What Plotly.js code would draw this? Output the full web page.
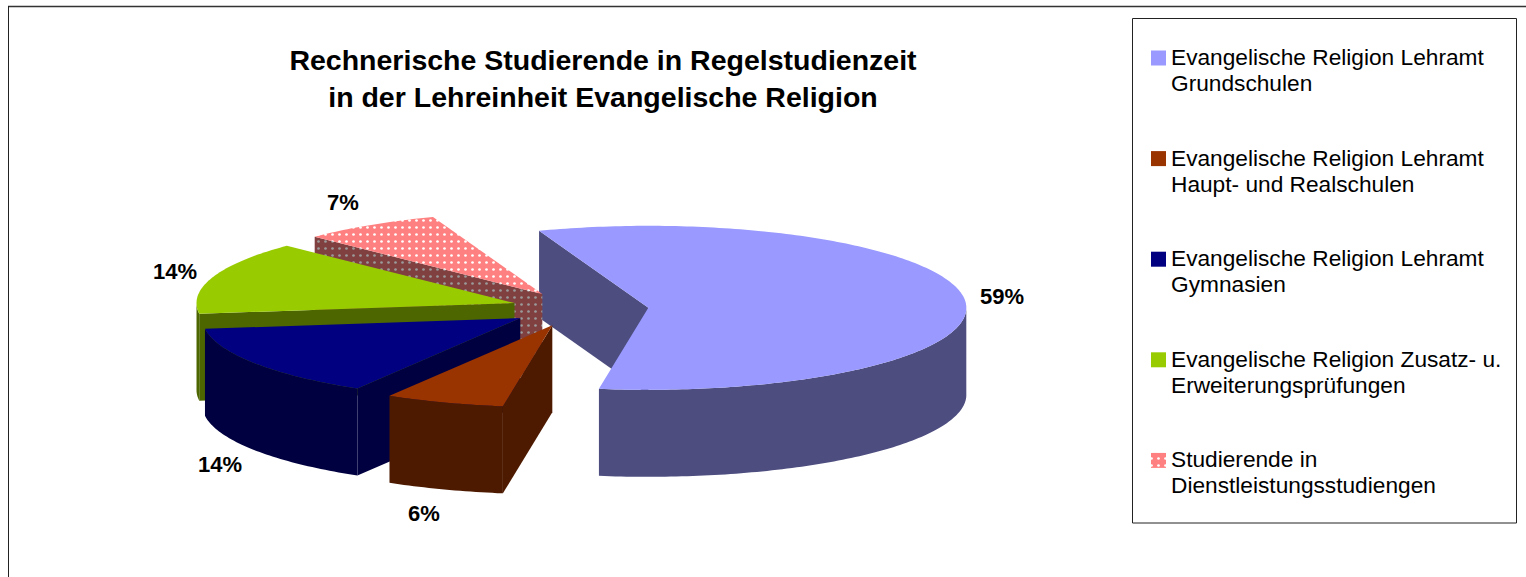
<!DOCTYPE html>
<html lang="de">
<head>
<meta charset="utf-8">
<title>Rechnerische Studierende in Regelstudienzeit</title>
<script src="https://cdn.plot.ly/plotly-3.0.1.min.js"></script>
<style>
  html, body { margin: 0; padding: 0; background: #fff; }
  #chart { width: 1526px; height: 577px; }
</style>
</head>
<body>
<div id="chart"></div>
<script>
// Chart data
const categories = [
  'Evangelische Religion Lehramt\nGrundschulen',
  'Evangelische Religion Lehramt\nHaupt- und Realschulen',
  'Evangelische Religion Lehramt\nGymnasien',
  'Evangelische Religion Zusatz- u.\nErweiterungsprüfungen',
  'Studierende in\nDienstleistungsstudiengen'
];
const shares = [59, 6, 14, 14, 7];
const topColors = ['#9999FF', '#993300', '#000080', '#99CC00', '#FF8080'];
const wallColors = ['#4D4D80', '#4D1A00', '#000040', '#4D6600', '#804040'];
const dottedSlice = [false, false, false, false, true];
const titleLines = ['Rechnerische Studierende in Regelstudienzeit', 'in der Lehreinheit Evangelische Religion'];

// Pie geometry, in the pixel-scaled axes below
const pieCenter = [579.5, 309];
const radiusX = 318;
const radiusY = 82;
const depth = 87;
const explodeBy = 69;
const startAngle = -20;
const foreshorten = 3.5;

// Percentage label placement, per slice
const labelAt = [[1002, 296], [424, 513], [220, 464], [175, 271], [343, 202]];

const rad = d => d * Math.PI / 180;
// Angles run clockwise from the far side of the pie
const viewAngle = t => t - foreshorten * (1 - Math.cos(rad(t))) / 2;

function range(from, to) {
  const out = [];
  const n = Math.max(2, Math.ceil(Math.abs(to - from)));
  for (let i = 0; i <= n; i++) out.push(from + (to - from) * i / n);
  return out;
}

const total = shares.reduce((a, b) => a + b, 0);
let cursor = startAngle;
const slices = shares.map((v, i) => {
  const from = cursor;
  const to = cursor + v / total * 360;
  cursor = to;
  const mid = rad((from + to) / 2);
  return {
    i, from, to,
    cx: pieCenter[0] + explodeBy * Math.sin(mid),
    cy: pieCenter[1] - explodeBy * radiusY / radiusX * Math.cos(mid)
  };
});

const rim = (s, t) => {
  const a = rad(viewAngle(t));
  return [s.cx + radiusX * Math.sin(a), s.cy - radiusY * Math.cos(a)];
};

function polygon(points, s, color, name) {
  const trace = {
    type: 'scatter',
    mode: 'none',
    x: points.map(p => p[0]).concat(points[0][0]),
    y: points.map(p => p[1]).concat(points[0][1]),
    fill: 'toself',
    fillcolor: color,
    hoverinfo: 'skip',
    showlegend: false,
    name
  };
  if (dottedSlice[s.i]) {
    const isWall = color === wallColors[s.i];
    trace.fillpattern = {
      shape: '.',
      bgcolor: color,
      fgcolor: isWall ? '#9a9a9a' : '#ffffff',
      size: 7,
      solidity: 0.12
    };
  }
  return trace;
}

const traces = [];

// Largest slice first, then back to front so nearer slices cover farther ones
[0, 4, 3, 2, 1].forEach(i => {
  const s = slices[i];
  const label = categories[i].replace('\n', ' ');

  // Radial wall along the leading edge of the slice
  const edge = rim(s, s.from);
  traces.push(polygon([
    [s.cx, s.cy], edge, [edge[0], edge[1] + depth], [s.cx, s.cy + depth]
  ], s, wallColors[i], label + ' (Seite)'));

  // Curved outer wall, only the part facing the viewer
  const visible = range(s.from, s.to).filter(t => Math.cos(rad(viewAngle(t))) <= 0);
  if (visible.length > 1) {
    const upper = visible.map(t => rim(s, t));
    const lower = upper.slice().reverse().map(p => [p[0], p[1] + depth]);
    traces.push(polygon(upper.concat(lower), s, wallColors[i], label + ' (Rand)'));
  }

  // Top face
  const top = [[s.cx, s.cy]].concat(range(s.from, s.to).map(t => rim(s, t)));
  traces.push(polygon(top, s, topColors[i], label));
});

const annotations = [];

// Percentage labels
slices.forEach(s => {
  annotations.push({
    x: labelAt[s.i][0], y: labelAt[s.i][1], xref: 'x', yref: 'y',
    text: '<b>' + shares[s.i] + '%</b>',
    showarrow: false, xanchor: 'center', yanchor: 'middle',
    font: { family: 'Liberation Sans, Arial, sans-serif', size: 22, color: '#000' }
  });
});

// Legend panel: square swatch and two lines of text per entry
const legendBox = { x0: 1132.5, x1: 1516.5, y0: 18.5, y1: 523 };
const legendFirstRow = 57;
const legendPitch = 100.6;
const legendLineGap = 26;
const swatchLeft = 1151;
const swatchSize = 15;
const legendTextLeft = 1171;

categories.forEach((name, i) => {
  const rowY = legendFirstRow + i * legendPitch;
  name.split('\n').forEach((line, k) => {
    annotations.push({
      x: legendTextLeft, y: rowY + k * legendLineGap, xref: 'x', yref: 'y',
      text: line, showarrow: false, xanchor: 'left', yanchor: 'middle',
      xshift: -2,
      font: { family: 'Liberation Sans, Arial, sans-serif', size: 22.7, color: '#000' }
    });
  });
  const half = swatchSize / 2;
  const cy = rowY + 1;
  traces.push(polygon([
    [swatchLeft, cy - half], [swatchLeft + swatchSize, cy - half],
    [swatchLeft + swatchSize, cy + half], [swatchLeft, cy + half]
  ], { i }, topColors[i], name.replace('\n', ' ')));
});

const shapes = [
  // Chart frame: top and left rules
  { type: 'line', xref: 'x', yref: 'y', x0: 8, x1: 1526, y0: 6.5, y1: 6.5, line: { color: '#333', width: 1.5 } },
  { type: 'line', xref: 'x', yref: 'y', x0: 8.5, x1: 8.5, y0: 6, y1: 577, line: { color: '#222', width: 1 } },
  // Legend border
  { type: 'rect', xref: 'x', yref: 'y', x0: legendBox.x0, x1: legendBox.x1, y0: legendBox.y0, y1: legendBox.y1,
    line: { color: '#222', width: 1 }, fillcolor: 'rgba(0,0,0,0)' }
];

const layout = {
  width: 1526,
  height: 577,
  margin: { l: 0, r: 0, t: 0, b: 0 },
  paper_bgcolor: '#fff',
  plot_bgcolor: '#fff',
  showlegend: false,
  hovermode: false,
  title: {
    text: titleLines.map(l => '<b>' + l + '</b>').join('<br>'),
    x: 603 / 1526, xanchor: 'center',
    y: 1 - 70 / 577, yanchor: 'middle',
    font: { family: 'Liberation Sans, Arial, sans-serif', size: 28.5, color: '#000' }
  },
  xaxis: { range: [0, 1526], visible: false, fixedrange: true },
  yaxis: { range: [577, 0], visible: false, fixedrange: true },
  annotations,
  shapes
};

Plotly.newPlot('chart', traces, layout, { displayModeBar: false, staticPlot: true });
</script>
</body>
</html>
